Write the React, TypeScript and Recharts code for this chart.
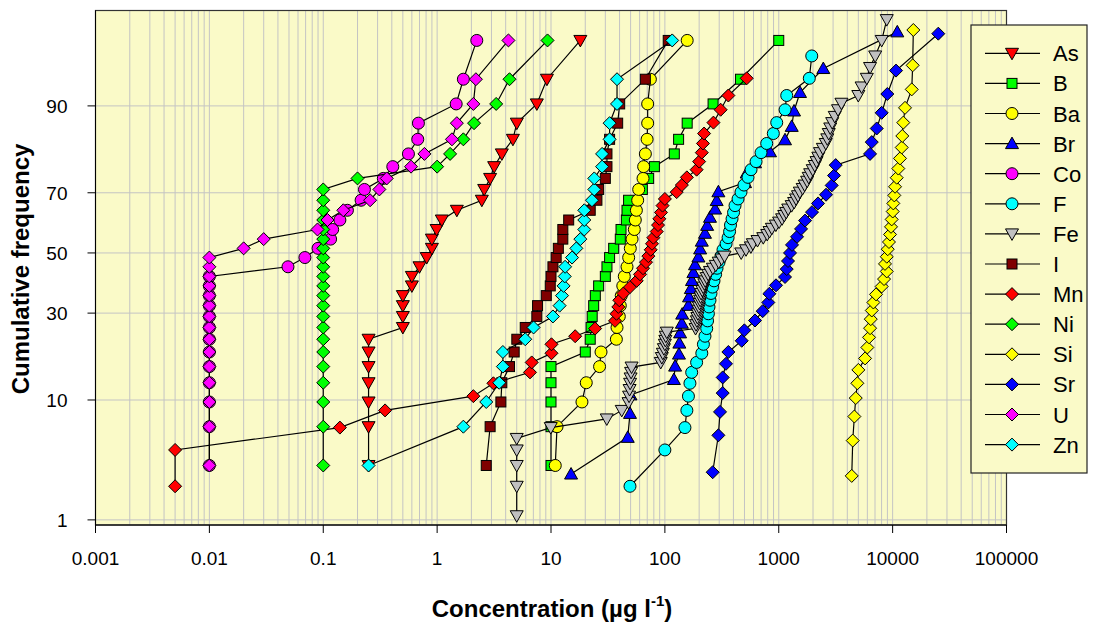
import { ComposedChart, Scatter, XAxis, YAxis, CartesianGrid, Customized } from 'recharts';

// cumulative frequency levels (%), one list per sample count
const freq31 = [3.2, 6.5, 9.7, 12.9, 16.1, 19.4, 22.6, 25.8, 29.0, 32.3, 35.5, 38.7, 41.9, 45.2, 48.4, 51.6, 54.8, 58.1, 61.3, 64.5, 67.7, 71.0, 74.2, 77.4, 80.6, 83.9, 87.1, 90.3, 93.5, 96.8];
const freq36 = [2.8, 5.6, 8.3, 11.1, 13.9, 16.7, 19.4, 22.2, 25.0, 27.8, 30.6, 33.3, 36.1, 38.9, 41.7, 44.4, 47.2, 50.0, 52.8, 55.6, 58.3, 61.1, 63.9, 66.7, 69.4, 72.2, 75.0, 77.8, 80.6, 83.3, 86.1, 88.9, 91.7, 94.4, 97.2];
const freq37 = [2.7, 5.4, 8.1, 10.8, 13.5, 16.2, 18.9, 21.6, 24.3, 27.0, 29.7, 32.4, 35.1, 37.8, 40.5, 43.2, 45.9, 48.6, 51.4, 54.1, 56.8, 59.5, 62.2, 64.9, 67.6, 70.3, 73.0, 75.7, 78.4, 81.1, 83.8, 86.5, 89.2, 91.9, 94.6, 97.3];
const freq39 = [2.6, 5.1, 7.7, 10.3, 12.8, 15.4, 17.9, 20.5, 23.1, 25.6, 28.2, 30.8, 33.3, 35.9, 38.5, 41.0, 43.6, 46.2, 48.7, 51.3, 53.8, 56.4, 59.0, 61.5, 64.1, 66.7, 69.2, 71.8, 74.4, 76.9, 79.5, 82.1, 84.6, 87.2, 89.7, 92.3, 94.9, 97.4];
const freq47 = [2.1, 4.3, 6.4, 8.5, 10.6, 12.8, 14.9, 17.0, 19.1, 21.3, 23.4, 25.5, 27.7, 29.8, 31.9, 34.0, 36.2, 38.3, 40.4, 42.6, 44.7, 46.8, 48.9, 51.1, 53.2, 55.3, 57.4, 59.6, 61.7, 63.8, 66.0, 68.1, 70.2, 72.3, 74.5, 76.6, 78.7, 80.9, 83.0, 85.1, 87.2, 89.4, 91.5, 93.6, 95.7];
const freq94 = [1.1, 2.1, 3.2, 4.3, 5.3, 6.4, 7.4, 8.5, 9.6, 10.6, 11.7, 12.8, 13.8, 14.9, 16.0, 17.0, 18.1, 19.1, 20.2, 21.3, 22.3, 23.4, 24.5, 25.5, 26.6, 27.7, 28.7, 29.8, 30.9, 31.9, 33.0, 34.0, 35.1, 36.2, 37.2, 38.3, 39.4, 40.4, 41.5, 42.6, 43.6, 44.7, 45.7, 46.8, 47.9, 48.9, 50.0, 51.1, 52.1, 53.2, 54.3, 55.3, 56.4, 57.4, 58.5, 59.6, 60.6, 61.7, 62.8, 63.8, 64.9, 66.0, 67.0, 68.1, 69.1, 70.2, 71.3, 72.3, 73.4, 74.5, 75.5, 76.6, 77.7, 78.7, 79.8, 80.9, 81.9, 83.0, 84.0, 85.1, 86.2, 87.2, 88.3, 89.4, 90.4, 91.5, 92.6, 93.6, 94.7, 95.7, 96.8, 97.9];

// concentrations (µg/l), sorted ascending
const asConc = [0.25, 0.25, 0.25, 0.25, 0.25, 0.25, 0.25, 0.5, 0.5, 0.5, 0.5, 0.6, 0.6, 0.7, 0.81, 0.9, 0.9, 0.99, 1.1, 1.49, 2.47, 2.59, 2.92, 3.17, 3.7, 4.63, 5.01, 7.51, 9.21, 18.1];
const bConc = [10, 10, 10, 10, 10, 20, 22.1, 22.5, 23, 23.7, 24.5, 26.2, 30, 31, 32.7, 35.5, 40.6, 41.2, 45.9, 46.5, 48, 63.4, 72, 80.9, 121, 132, 157, 265, 461, 1000];
const baConc = [10.9, 11.3, 18.7, 20.4, 26.7, 27.5, 37.5, 38, 39.8, 40.6, 41.4, 42.7, 44, 46.5, 48.1, 49.7, 51.5, 53.9, 55, 56.2, 57.7, 58.9, 64.3, 65.1, 67.4, 69.8, 70.6, 70.6, 74.6, 157];
const brConc = [15, 47.2, 49.4, 49.9, 120, 123, 133, 134, 136, 141, 142, 161, 163, 169, 173, 178, 184, 197, 204, 211, 225, 235, 249, 276, 285, 295, 506, 523, 619, 838, 1135, 1300, 1362, 1537, 2462, 10990];
const coConc = [0.01, 0.01, 0.01, 0.01, 0.01, 0.01, 0.01, 0.01, 0.01, 0.01, 0.01, 0.01, 0.01, 0.049, 0.069, 0.09, 0.116, 0.121, 0.14, 0.163, 0.215, 0.23, 0.337, 0.408, 0.56, 0.676, 0.685, 1.47, 1.7, 2.23];
const fConc = [49.4, 100, 150, 156, 161, 166, 172, 190, 211, 218, 225, 233, 237, 241, 244, 249, 254, 262, 270, 279, 287, 299, 311, 324, 345, 359, 370, 377, 389, 401, 413, 439, 466, 495, 537, 571, 632, 699, 784, 896, 960, 1136, 1175, 1855, 1949];
const feConc = [5, 5, 5, 5, 5, 9.95, 30.9, 41.8, 48, 48.5, 49, 49.5, 50, 50.5, 51, 92, 94, 96, 98, 100, 101, 102, 104, 186, 188, 191, 193, 195, 197, 199, 202, 204, 206, 208, 213, 217, 222, 226, 233, 240, 249, 264, 280, 297, 315, 334, 468, 516, 569, 592, 651, 731, 792, 830, 870, 943, 1007, 1070, 1117, 1162, 1211, 1299, 1365, 1419, 1475, 1531, 1622, 1688, 1775, 1832, 1888, 1989, 2072, 2148, 2226, 2302, 2440, 2589, 2668, 2749, 2833, 2947, 3102, 3315, 3552, 4994, 5340, 5936, 6336, 7030, 8018, 8880];
const iConc = [2.7, 2.92, 3.63, 3.7, 4.32, 4.75, 5.01, 5.94, 7.51, 7.62, 9.09, 9.85, 10, 10.4, 11.1, 11.6, 12.7, 12.7, 14.3, 22.1, 25.3, 26.2, 30, 31, 31, 32.7, 38.5, 40.1, 67.4, 107];
const mnConc = [0.005, 0.005, 0.14, 0.349, 2.08, 3.12, 6.54, 6.77, 10.1, 10.1, 16.3, 24.4, 36.5, 37.6, 39, 39.8, 43.2, 49.4, 56.6, 60.5, 64.3, 68.3, 71.6, 75.1, 77.1, 79.2, 84.8, 87.1, 89.4, 92.5, 95.4, 100, 127, 141, 156, 190, 200, 211, 216, 221, 267, 309, 361, 523];
const niConc = [0.1, 0.1, 0.1, 0.1, 0.1, 0.1, 0.1, 0.1, 0.1, 0.1, 0.1, 0.1, 0.1, 0.1, 0.1, 0.1, 0.1, 0.1, 0.1, 0.1, 0.1, 0.1, 0.2, 1, 1.3, 1.7, 2.11, 3.3, 4.32, 9.32];
const siConc = [4375, 4465, 4613, 4745, 4900, 5000, 5728, 5998, 6209, 6340, 6428, 6561, 6776, 7150, 8018, 8407, 8880, 8570, 8880, 9060, 9290, 9490, 9680, 9810, 10020, 10140, 10350, 10500, 10860, 11220, 11610, 12020, 12160, 12410, 12850, 14720, 15000, 15200];
const srConc = [263, 295, 305, 322, 322, 344, 361, 473, 499, 619, 723, 810, 827, 946, 1135, 1175, 1206, 1256, 1308, 1448, 1570, 1702, 1960, 2213, 2601, 2918, 3057, 3164, 6336, 6559, 7250, 8018, 8983, 10710, 25180];
const uConc = [0.01, 0.01, 0.01, 0.01, 0.01, 0.01, 0.01, 0.01, 0.01, 0.01, 0.01, 0.01, 0.01, 0.01, 0.01, 0.02, 0.03, 0.089, 0.109, 0.15, 0.258, 0.311, 0.361, 0.59, 0.773, 1.35, 1.49, 2.08, 2.19, 4.23];
const znConc = [0.25, 1.7, 2.7, 3.51, 3.78, 3.78, 5.94, 7.03, 10.4, 11.9, 12.5, 12.9, 13.2, 13.3, 15.3, 16.7, 18.1, 19.6, 19.6, 19.6, 22.9, 24, 24, 28.1, 28.1, 32.7, 32.7, 38, 38, 116];

const xTicks = [0.001, 0.01, 0.1, 1, 10, 100, 1000, 10000, 100000];
const xMinor = [2, 3, 4, 5, 6, 7, 8, 9];
const yTicks = [1, 10, 30, 50, 70, 90];
const yLimits = [0.887, 98.27];

type Marker = 'triDown' | 'triUp' | 'square' | 'circle' | 'diamond';

interface Element {
  name: string;
  conc: number[];
  freq: number[];
  marker: Marker;
  fill: string;
}

const elements: Element[] = [
  { name: 'As', conc: asConc, freq: freq31, marker: 'triDown', fill: '#FF0000' },
  { name: 'B', conc: bConc, freq: freq31, marker: 'square', fill: '#00FF00' },
  { name: 'Ba', conc: baConc, freq: freq31, marker: 'circle', fill: '#FFFF00' },
  { name: 'Br', conc: brConc, freq: freq37, marker: 'triUp', fill: '#0000FF' },
  { name: 'Co', conc: coConc, freq: freq31, marker: 'circle', fill: '#FF00FF' },
  { name: 'F', conc: fConc, freq: freq47, marker: 'circle', fill: '#00FFFF' },
  { name: 'Fe', conc: feConc, freq: freq94, marker: 'triDown', fill: '#C0C0C0' },
  { name: 'I', conc: iConc, freq: freq31, marker: 'square', fill: '#800000' },
  { name: 'Mn', conc: mnConc, freq: freq47, marker: 'diamond', fill: '#FF0000' },
  { name: 'Ni', conc: niConc, freq: freq31, marker: 'diamond', fill: '#00FF00' },
  { name: 'Si', conc: siConc, freq: freq39, marker: 'diamond', fill: '#FFFF00' },
  { name: 'Sr', conc: srConc, freq: freq36, marker: 'diamond', fill: '#0000FF' },
  { name: 'U', conc: uConc, freq: freq31, marker: 'diamond', fill: '#FF00FF' },
  { name: 'Zn', conc: znConc, freq: freq31, marker: 'diamond', fill: '#00FFFF' },
];

// inverse standard normal CDF (Acklam), used for the probability axis
function probit(pct: number) {
  const p = pct / 100;
  const a = [-39.69683028665376, 220.9460984245205, -275.9285104469687, 138.357751867269, -30.66479806614716, 2.506628277459239];
  const b = [-54.47609879822406, 161.5858368580409, -155.6989798598866, 66.80131188771972, -13.28068155288572];
  const c = [-0.007784894002430293, -0.3223964580411365, -2.400758277161838, -2.549732539343734, 4.374664141464968, 2.938163982698783];
  const d = [0.007784695709041462, 0.3224671290700398, 2.445134137142996, 3.754408661907416];
  const lo = 0.02425;
  if (p < lo || p > 1 - lo) {
    const q = Math.sqrt(-2 * Math.log(p < lo ? p : 1 - p));
    const v = (((((c[0] * q + c[1]) * q + c[2]) * q + c[3]) * q + c[4]) * q + c[5]) /
      ((((d[0] * q + d[1]) * q + d[2]) * q + d[3]) * q + 1);
    return p < lo ? v : -v;
  }
  const q = p - 0.5;
  const r = q * q;
  return (((((a[0] * r + a[1]) * r + a[2]) * r + a[3]) * r + a[4]) * r + a[5]) * q /
    (((((b[0] * r + b[1]) * r + b[2]) * r + b[3]) * r + b[4]) * r + 1);
}

const allXTicks: number[] = [];
xTicks.forEach((t, i) => {
  allXTicks.push(t);
  if (i < xTicks.length - 1) xMinor.forEach((m) => allXTicks.push(t * m));
});

const yTickPos = yTicks.map(probit);
const yDomain = [probit(yLimits[0]), probit(yLimits[1])];

const FONT = '"Liberation Sans", Arial, Helvetica, sans-serif';
const BG = '#FAFAC8';

function MarkerShape({ kind, fill, cx, cy }: { kind: Marker; fill: string; cx: number; cy: number }) {
  const common = { fill, stroke: '#000', strokeWidth: 1 };
  if (kind === 'circle') return <circle cx={cx} cy={cy} r={6} {...common} />;
  if (kind === 'square') return <rect x={cx - 5} y={cy - 5} width={10} height={10} {...common} />;
  if (kind === 'diamond')
    return <polygon points={`${cx},${cy - 6.5} ${cx + 6.5},${cy} ${cx},${cy + 6.5} ${cx - 6.5},${cy}`} {...common} />;
  if (kind === 'triUp')
    return <polygon points={`${cx},${cy - 6.5} ${cx + 6.5},${cy + 5} ${cx - 6.5},${cy + 5}`} {...common} />;
  return <polygon points={`${cx - 6.5},${cy - 5} ${cx + 6.5},${cy - 5} ${cx},${cy + 6.5}`} {...common} />;
}

function XTick(props: any) {
  const { x, y, payload } = props;
  if (!xTicks.includes(payload.value)) return null;
  return (
    <g>
      <line x1={x} x2={x} y1={y} y2={y + 8} stroke="#000" />
      <text x={x} y={y + 40} textAnchor="middle" fontSize={19} fontFamily={FONT} fill="#000">
        {String(payload.value)}
      </text>
    </g>
  );
}

function Overlay() {
  const lx = 963;
  const ly = 17;
  return (
    <g>
      <rect x={87.5} y={2.5} width={911} height={514.5} fill="none" stroke="#333" strokeWidth={1.2} />
      <text
        transform="translate(21,261) rotate(-90)"
        textAnchor="middle"
        fontSize={24}
        fontWeight="bold"
        fontFamily={FONT}
        fill="#000"
      >
        Cumulative frequency
      </text>
      <text x={544} y={609} textAnchor="middle" fontSize={24} fontWeight="bold" fontFamily={FONT} fill="#000">
        Concentration (µg l
        <tspan dy={-11} fontSize={15}>-1</tspan>
        <tspan dy={11}>)</tspan>
      </text>
      <rect x={lx} y={ly} width={116} height={448} fill={BG} stroke="#222" strokeWidth={1.2} />
      {elements.map((el, i) => {
        const cy = 45.3 + i * 30.1;
        return (
          <g key={el.name}>
            <line x1={977} x2={1032} y1={cy} y2={cy} stroke="#000" strokeWidth={1.2} />
            <MarkerShape kind={el.marker} fill={el.fill} cx={1004} cy={cy} />
            <text x={1045} y={cy + 8} fontSize={22} fontFamily={FONT} fill="#000">
              {el.name}
            </text>
          </g>
        );
      })}
    </g>
  );
}

export default function App() {
  return (
    <ComposedChart width={1080} height={616} margin={{ top: 2.5, right: 81.5, bottom: 0, left: 0 }}>
      <CartesianGrid fill={BG} fillOpacity={1} stroke="#C4C4C4" strokeWidth={1} />
      <XAxis
        type="number"
        dataKey="x"
        scale="log"
        domain={[0.001, 100000]}
        allowDataOverflow
        ticks={allXTicks}
        interval={0}
        height={99}
        tickSize={0}
        tickMargin={0}
        tickLine={false}
        tick={<XTick />}
        axisLine={{ stroke: '#000' }}
      />
      <YAxis
        type="number"
        dataKey="y"
        domain={yDomain}
        allowDataOverflow
        ticks={yTickPos}
        interval={0}
        width={87.5}
        tickSize={8}
        tickMargin={20}
        tickLine={{ stroke: '#000' }}
        axisLine={{ stroke: '#000' }}
        tickFormatter={(v: number) => String(yTicks[yTickPos.indexOf(v)] ?? '')}
        tick={{ fontSize: 19, fontFamily: FONT, fill: '#000' }}
      />
      {elements.map((el) => (
        <Scatter
          key={el.name}
          name={el.name}
          data={el.conc.map((c, i) => ({ x: c, y: probit(el.freq[i]) }))}
          line={{ stroke: '#000', strokeWidth: 1.2 }}
          shape={(p: any) => <MarkerShape kind={el.marker} fill={el.fill} cx={p.cx} cy={p.cy} />}
          isAnimationActive={false}
        />
      ))}
      <Customized component={Overlay} />
    </ComposedChart>
  );
}
